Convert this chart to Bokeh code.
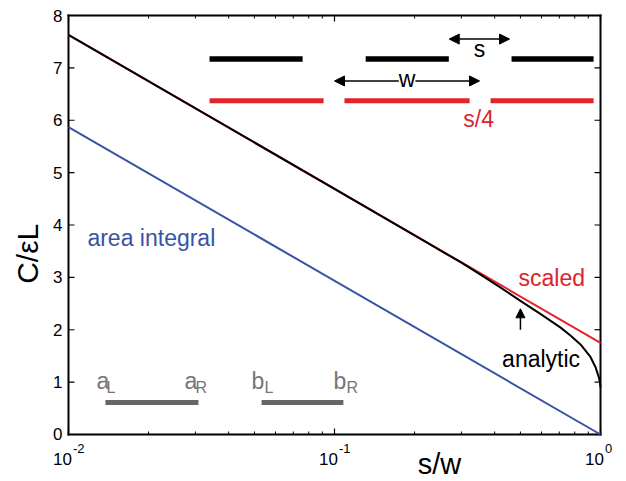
import numpy as np
from bokeh.plotting import figure
from bokeh.models import Label, Arrow, NormalHead, Range1d
from bokeh.core.properties import value
from bokeh.embed import file_html
from bokeh.resources import INLINE

# ---- data ----
s_over_w_line = [0.01, 1.0]
scaled = [7.63, 1.75]
area_integral = [5.87, 0.0]
s_over_w_analytic = [0.01, 0.1, 0.2, 0.3, 0.36, 0.42, 0.5, 0.6, 0.708,
                     0.771, 0.841, 0.917, 0.957, 0.986, 0.995, 1.0]
analytic = [7.63, 4.69, 3.80, 3.28, 3.03, 2.81, 2.55, 2.29, 2.04,
            1.89, 1.72, 1.48, 1.29, 1.09, 1.00, 0.90]
x_ticks = [0.01, 0.1, 1.0]
x_tick_base = ["10", "10", "10"]
x_exponents = ["-2", "-1", "0"]
x_minor = [m * d for d in (0.01, 0.1) for m in range(2, 10)]
y_ticks = [0, 1, 2, 3, 4, 5, 6, 7, 8]
y_tick_labels = [str(t) for t in y_ticks]
X_LO, X_HI, Y_LO, Y_HI = 0.01, 1.0, 0, 8

FONT = "Liberation Sans"
BLUE = "#3953a4"
RED = "#e3232b"
RED_TXT = "#d9262e"
GRAY = "#666666"
GRAY_TXT = "#767676"

# the frame covers the whole canvas so that every text stays visible;
# the axis box is drawn at the data limits (0.01..1, 0..8)
p = figure(width=626, height=481, x_axis_type="log",
           x_range=Range1d(10 ** -2.2556, 10 ** 0.0977),
           y_range=Range1d(-0.8974, 8.2864),
           x_axis_location=None, y_axis_location=None,
           output_backend="svg", toolbar_location=None, min_border=0)
p.xgrid.visible = False
p.ygrid.visible = False
p.outline_line_color = None

# ---- axis box and inward ticks ----
nx, ny = len(x_ticks), len(y_ticks)
p.ray(x=x_ticks, y=[Y_LO] * nx, length=6, angle=np.pi / 2,
      length_units="screen", line_color="black", line_width=1.2)
p.ray(x=x_ticks, y=[Y_HI] * nx, length=6, angle=-np.pi / 2,
      length_units="screen", line_color="black", line_width=1.2)
p.ray(x=x_minor, y=[Y_LO] * len(x_minor), length=3, angle=np.pi / 2,
      length_units="screen", line_color="black", line_width=1)
p.ray(x=x_minor, y=[Y_HI] * len(x_minor), length=3, angle=-np.pi / 2,
      length_units="screen", line_color="black", line_width=1)
p.ray(x=[X_LO] * ny, y=y_ticks, length=6, angle=0,
      length_units="screen", line_color="black", line_width=1.2)
p.ray(x=[X_HI] * ny, y=y_ticks, length=6, angle=np.pi,
      length_units="screen", line_color="black", line_width=1.2)
p.segment(x0=[X_LO, X_LO, X_LO, X_HI], y0=[Y_LO, Y_HI, Y_LO, Y_LO],
          x1=[X_HI, X_HI, X_LO, X_HI], y1=[Y_LO, Y_HI, Y_HI, Y_HI],
          line_color="black", line_width=2, line_cap="square")

# tick labels
p.text(x=[X_LO] * ny, y=y_ticks, text=y_tick_labels, x_offset=-6,
       text_align="right", text_baseline="middle", text_font=value(FONT),
       text_font_size="17px", text_color="black")
p.text(x=x_ticks, y=[Y_LO] * nx, text=x_tick_base, x_offset=-6,
       y_offset=25, text_align="center", text_baseline="middle",
       text_font=value(FONT), text_font_size="17px", text_color="black")
p.text(x=x_ticks, y=[Y_LO] * nx, text=x_exponents, x_offset=4.5,
       y_offset=14.5, text_align="left", text_baseline="middle",
       text_font=value(FONT), text_font_size="13px", text_color="black")

# ---- curves ----
p.line(s_over_w_line, area_integral, line_color=BLUE, line_width=2)
p.line(s_over_w_line, scaled, line_color=RED, line_width=2)
p.line(s_over_w_analytic, analytic, line_color="black", line_width=2)

# ---- schematic electrodes ----
p.segment(x0=[0.0339, 0.131, 0.463], y0=[7.17] * 3,
          x1=[0.0759, 0.269, 0.942], y1=[7.17] * 3,
          line_color="black", line_width=5.5, line_cap="butt")
p.segment(x0=[0.0339, 0.109, 0.386], y0=[6.37] * 3,
          x1=[0.091, 0.322, 0.942], y1=[6.37] * 3,
          line_color=RED, line_width=5, line_cap="butt")
p.segment(x0=[0.01377, 0.0532], y0=[0.61] * 2,
          x1=[0.0308, 0.108], y1=[0.61] * 2,
          line_color=GRAY, line_width=5, line_cap="butt")


def head(size=10):
    return NormalHead(size=size, fill_color="black", line_color="black")


p.add_layout(Arrow(x_start=0.270, y_start=7.55, x_end=0.455, y_end=7.55,
                   start=head(), end=head(), line_width=1.5))
p.add_layout(Arrow(x_start=0.1, y_start=6.75, x_end=0.351, y_end=6.75,
                   start=head(), end=head(), line_width=1.5))
p.add_layout(Arrow(x_start=0.5, y_start=2.0, x_end=0.5, y_end=2.40,
                   end=head(9), line_width=1.5))


def lab(x, y, t, color="black", size="23px", align="left", **kw):
    p.add_layout(Label(x=x, y=y, text=t, text_color=color, text_font=FONT,
                       text_font_size=size, text_align=align,
                       text_baseline="middle", **kw))


lab(0.351, 7.357, "s", align="center")
lab(0.1875, 6.784, "w", align="center", background_fill_color="white")
lab(0.305, 6.02, "s/4", color=RED_TXT)
lab(0.01178, 3.76, "area integral", color=BLUE)
lab(0.492, 2.98, "scaled", color=RED_TXT)
lab(0.4266, 1.45, "analytic")

for xm, tm in zip([0.01274, 0.0273, 0.0488, 0.0991], ["a", "a", "b", "b"]):
    lab(xm, 1.03, tm, color=GRAY_TXT)
for xs, ts in zip([0.01390, 0.0300, 0.0546, 0.1109], ["L", "R", "L", "R"]):
    lab(xs, 0.888, ts, color=GRAY_TXT, size="16px")

# axis titles
lab(0.248, -0.56, "s/w", size="29px", align="center")
lab(0.00699, 3.45, "C/εL", size="30px", align="center", angle=np.pi / 2)

open("out.html", "w").write(file_html(p, INLINE))
